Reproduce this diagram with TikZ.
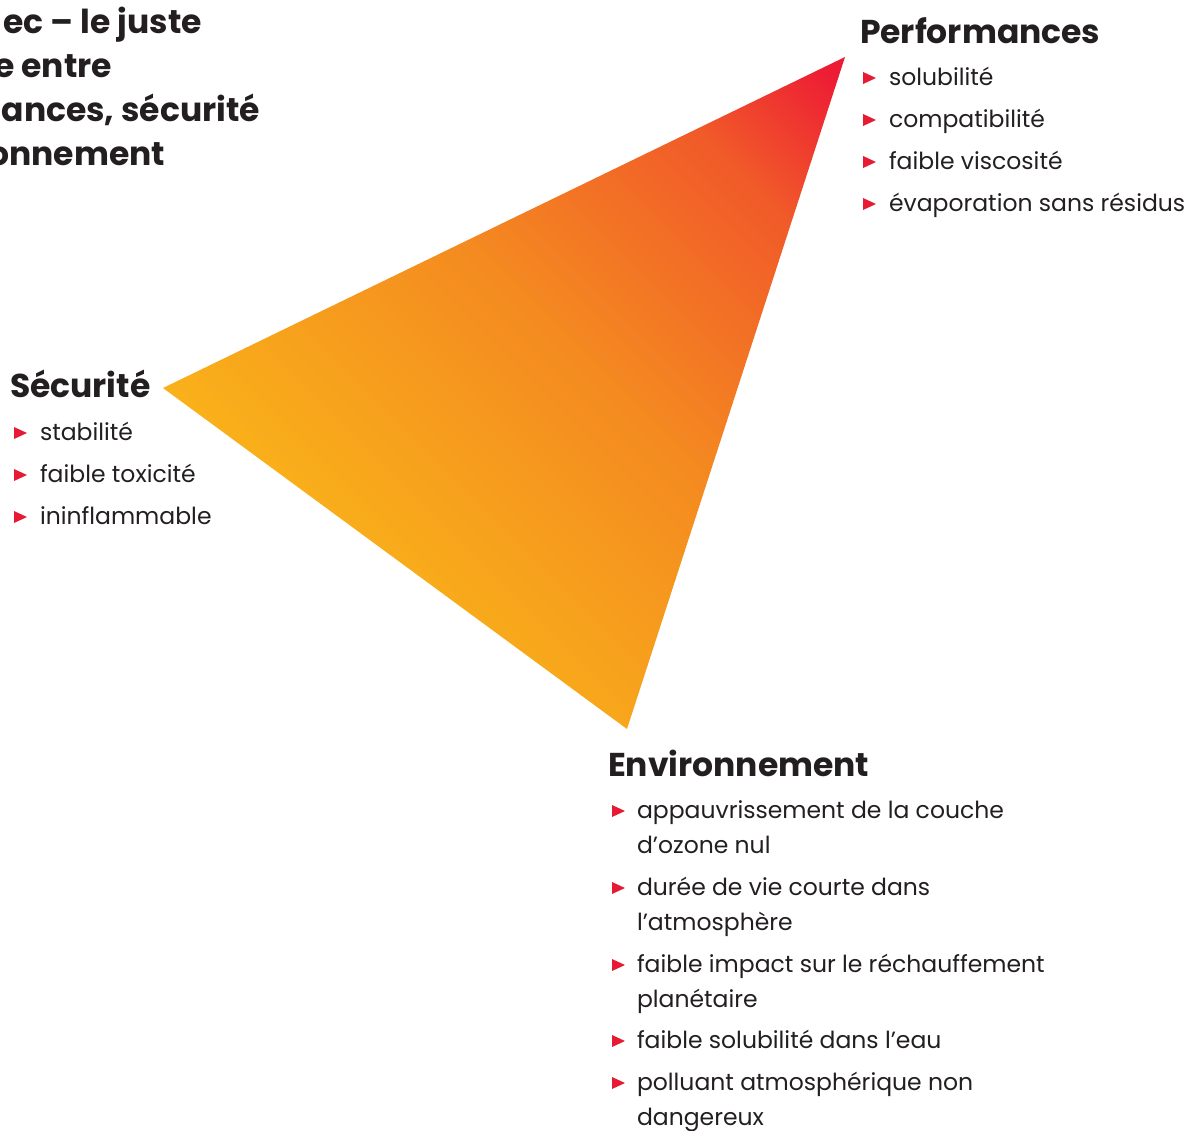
\documentclass[tikz,border=0pt]{standalone}
\usepackage{fontspec}
\setmainfont{Poppins}
\definecolor{encre}{HTML}{231F20}
\definecolor{jaune}{HTML}{F9B01A}
\definecolor{orangevif}{HTML}{F48A20}
\definecolor{orangerouge}{HTML}{F15A29}
\definecolor{rougevif}{HTML}{ED1C34}
\definecolor{puce}{HTML}{E61A33}
\pgfdeclarehorizontalshading{degrade}{100bp}{color(0bp)=(jaune); color(33bp)=(jaune);
	color(56bp)=(orangevif); color(74bp)=(orangerouge); color(84bp)=(rougevif); color(100bp)=(rougevif)}
\tikzset{
  titre/.style={font=\fontsize{33}{44}\selectfont\bfseries, anchor=base west},
  point/.style={font=\fontsize{23.5}{35}\selectfont, anchor=base west, align=left},
  fleche/.style={fill=puce}
}

\begin{document}
\begin{tikzpicture}[x=1pt,y=-1pt]
\tikzstyle{every node}=[inner sep=0pt, outer sep=0pt, text=encre]
	\useasboundingbox (0,0) rectangle (1186,1130);

	% sommets du triangle
	\coordinate (perf) at (845,57);
	\coordinate (secu) at (163,388);
	\coordinate (envi) at (627,729);
	\shade[shading=degrade, shading angle=45] (secu) -- (perf) -- (envi) -- cycle;

	% titre coupé en haut a gauche
	\node[titre, anchor=base east] (t1) at (202,33) {ec – le juste};
	\node[titre, anchor=base east] (t2) at (112,77) {e entre};
	\node[titre, anchor=base east] (t3) at (260,121) {ances, sécurité};
	\node[titre, anchor=base east] (t4) at (165,165) {onnement};

	% Performances
	\node[titre] (perf-titre) at (860,43) {Performances};
	\foreach \y/\txt [count=\i] in {85/solubilité, 127/compatibilité, 169/faible viscosité, 211/évaporation sans résidus}{
		\fill[fleche] (863,\y-13) -- (876,\y-7) -- (863,\y-1) -- cycle;
		\node[point] (perf-\i) at (889,\y) {\txt};
	}

	% Sécurité
	\node[titre] (secu-titre) at (10,397) {Sécurité};
	\foreach \y/\txt [count=\i] in {440/stabilité, 482/faible toxicité, 524/ininflammable}{
		\fill[fleche] (14,\y-13) -- (27,\y-7) -- (14,\y-1) -- cycle;
		\node[point] (secu-\i) at (40,\y) {\txt};
	}

	% Environnement (\n = lignes en plus, la base du noeud est sa derniere ligne)
	\node[titre] (envi-titre) at (608,776) {Environnement};
	\foreach \y/\n/\txt [count=\i] in {818/1/{appauvrissement de la couche\\d’ozone nul},
		895/1/{durée de vie courte dans\\l’atmosphère},
		972/1/{faible impact sur le réchauffement\\planétaire},
		1048/0/{faible solubilité dans l’eau},
		1090/1/{polluant atmosphérique non\\dangereux}}{
		\fill[fleche] (612,\y-13) -- (625,\y-7) -- (612,\y-1) -- cycle;
		\node[point] (envi-\i) at (637,\y+35*\n) {\txt};
	}
\end{tikzpicture}
\end{document}
